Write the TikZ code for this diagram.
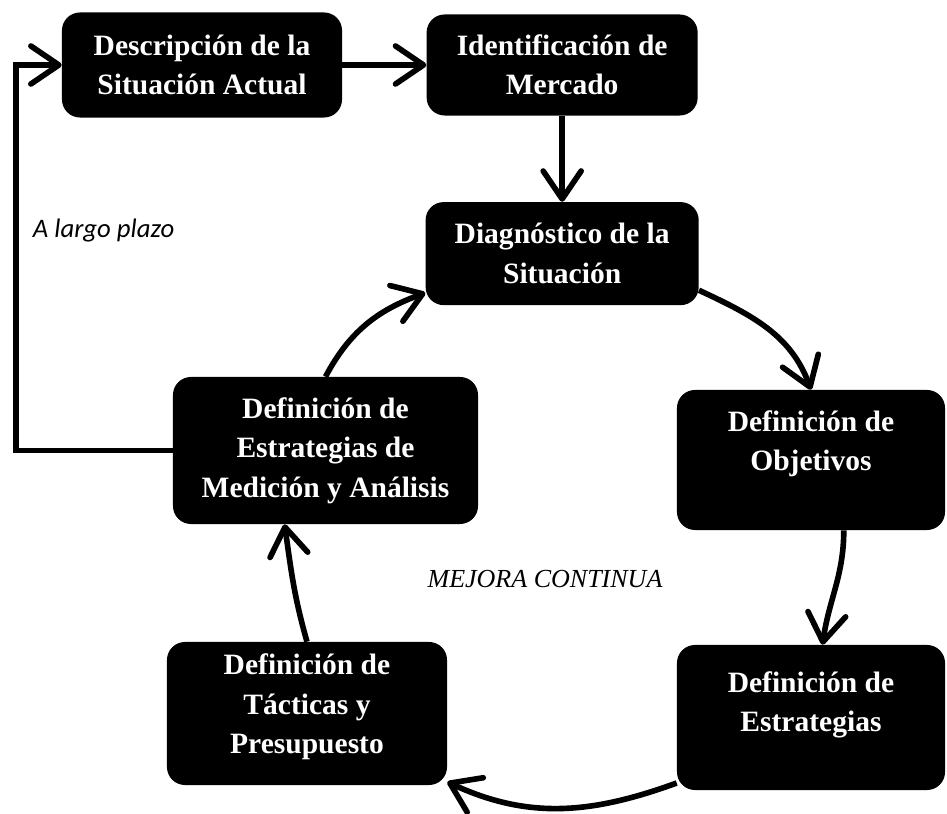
\documentclass[tikz,border=0pt]{standalone}
\usepackage{fontspec}
\setmainfont{Liberation Serif}
\newfontfamily\plazofont{Carlito}
\usetikzlibrary{arrows.meta,positioning}

\tikzset{
  etapa/.style={fill=black, text=white, rounded corners=0.45cm, align=center,
    font=\fontsize{21}{28}\selectfont\bfseries, inner sep=3pt},
  flecha/.style={line width=4pt, -{Straight Barb[length=0.7cm,width=0.95cm,round]}},
}

\begin{document}
\begin{tikzpicture}[x=0.025cm, y=0.025cm]
\useasboundingbox (0,0) rectangle (947,814);
% etapas
\node[etapa, minimum width=7cm, minimum height=2.625cm] (desc) at (202,749) {Descripción de la\\Situación Actual};
\node[etapa, minimum width=6.775cm, minimum height=2.525cm, right=2.1cm of desc] (merc) {Identificación de\\Mercado};
\node[etapa, minimum width=6.825cm, minimum height=2.575cm, below=2.15cm of merc] (diag) {Diagnóstico de la\\Situación};
\node[etapa, minimum width=7.625cm, minimum height=3.675cm] (medi) at (325.5,363.5) {Definición de\\Estrategias de\\Medición y Análisis};
\node[etapa, minimum width=6.7cm, minimum height=3.5cm] (obje) at (811,354) {Definición de\\Objetivos\\[0pt]\mbox{}};
\node[etapa, minimum width=6.7cm, minimum height=3.625cm] (estr) at (811,96.5) {Definición de\\Estrategias\\[-5pt]\mbox{}};
\node[etapa, minimum width=7cm, minimum height=3.575cm] (tact) at (307,100.5) {Definición de\\Tácticas y\\Presupuesto\\[-14pt]\mbox{}};
% textos
\node[font=\plazofont\itshape\fontsize{19}{23}\selectfont, anchor=base west] (plazo) at (28,576) {A largo plazo};
\node[font=\itshape\fontsize{18.5}{22}\selectfont, anchor=base] (mejora) at (545,226) {MEJORA CONTINUA};
% flechas
\coordinate (esq) at (16,0);
\draw[flecha] (desc) -- (merc);
\draw[flecha] (merc) -- (diag);
\draw[flecha] (diag.-15) to[out=-25, in=110] (obje.north);
\draw[flecha] (obje.-65) to[out=-90, in=82] (estr.81);
\draw[flecha] (estr.206) to[out=200, in=-25] (tact.-26);
\draw[flecha] (tact.north) to[out=106, in=-82] (medi.241);
\draw[flecha] (medi.north) to[out=62, in=200] (diag.196);
\draw[flecha] (medi.west) -- (medi.west -| esq) |- (desc.west);
\end{tikzpicture}
\end{document}
